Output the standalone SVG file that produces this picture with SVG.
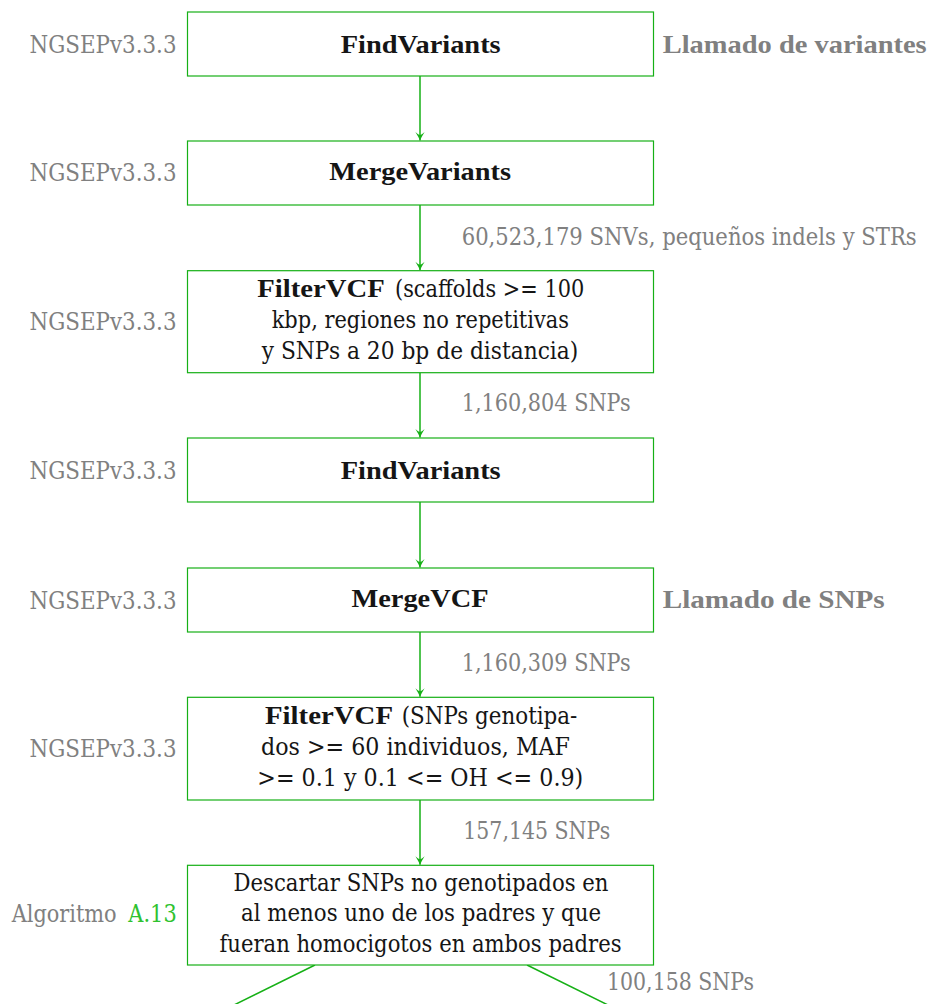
<svg xmlns="http://www.w3.org/2000/svg" width="930" height="1004" viewBox="0 0 930 1004">
  <style>
    text { font-family: "DejaVu Serif", "Liberation Serif", serif; font-size: 23.5px; }
    .b { font-weight: bold; font-family: "Liberation Serif", "DejaVu Serif", serif; font-size: 26px; }
    .t { fill: #151515; }
    .g { fill: #808080; }
    .lnk { fill: #2fc22f; }
    .box { fill: #ffffff; stroke: #16b016; stroke-width: 1.2; }
    .edge { fill: none; stroke: #16b016; stroke-width: 1.5; }
  </style>
  <defs>
    <marker id="arrow" markerUnits="userSpaceOnUse" viewBox="-10 -6 12 12" refX="0" refY="0" markerWidth="12" markerHeight="12" orient="auto">
      <path d="M0,0 Q-3,-1.2 -8.5,-4.6 Q-5.5,-1.5 -5.5,0 Q-5.5,1.5 -8.5,4.6 Q-3,1.2 0,0 Z" fill="#16b016"/>
    </marker>
  </defs>

  <rect width="930" height="1004" fill="#ffffff"/>

  <!-- connectors -->
  <g id="connectors">
    <line class="edge" x1="420" y1="76" x2="420" y2="140.5" marker-end="url(#arrow)"/>
    <line class="edge" x1="420" y1="205" x2="420" y2="270.2" marker-end="url(#arrow)"/>
    <line class="edge" x1="420" y1="372.7" x2="420" y2="437.5" marker-end="url(#arrow)"/>
    <line class="edge" x1="420" y1="502" x2="420" y2="567.5" marker-end="url(#arrow)"/>
    <line class="edge" x1="420" y1="632" x2="420" y2="696.8" marker-end="url(#arrow)"/>
    <line class="edge" x1="420" y1="800" x2="420" y2="864.8" marker-end="url(#arrow)"/>
    <line class="edge" x1="315" y1="965" x2="234" y2="1005"/>
    <line class="edge" x1="527" y1="965" x2="608" y2="1005"/>
  </g>

  <!-- edge annotations -->
  <g id="edge-labels" class="g">
    <text transform="translate(461.7 245) scale(0.8 1)" x="0" y="0" textLength="568.75" lengthAdjust="spacingAndGlyphs">60,523,179 SNVs, pequeños indels y STRs</text>
    <text x="461.7" y="411" textLength="169" lengthAdjust="spacingAndGlyphs">1,160,804 SNPs</text>
    <text x="461.7" y="670.5" textLength="169" lengthAdjust="spacingAndGlyphs">1,160,309 SNPs</text>
    <text x="463.3" y="839" textLength="147" lengthAdjust="spacingAndGlyphs">157,145 SNPs</text>
    <text x="607" y="990" textLength="147" lengthAdjust="spacingAndGlyphs">100,158 SNPs</text>
  </g>

  <!-- step 1 -->
  <g id="find-variants-1">
    <rect class="box" x="187.5" y="12" width="466" height="64"/>
    <text class="t b" x="340.7" y="53" textLength="160" lengthAdjust="spacingAndGlyphs">FindVariants</text>
    <text class="g" x="29.5" y="52.5" textLength="147" lengthAdjust="spacingAndGlyphs">NGSEPv3.3.3</text>
    <text class="g b" x="662.7" y="52.5" textLength="264" lengthAdjust="spacingAndGlyphs">Llamado de variantes</text>
  </g>

  <!-- step 2 -->
  <g id="merge-variants">
    <rect class="box" x="187.5" y="141" width="466" height="64"/>
    <text class="t b" x="329.3" y="180" textLength="181.7" lengthAdjust="spacingAndGlyphs">MergeVariants</text>
    <text class="g" x="29.5" y="181" textLength="147" lengthAdjust="spacingAndGlyphs">NGSEPv3.3.3</text>
  </g>

  <!-- step 3 -->
  <g id="filter-vcf-1">
    <rect class="box" x="187.5" y="270.7" width="466" height="102"/>
    <text class="t b" x="257.3" y="297.3" textLength="127.5" lengthAdjust="spacingAndGlyphs">FilterVCF</text>
    <text class="t" x="395" y="297.3" textLength="189.3" lengthAdjust="spacingAndGlyphs">(scaffolds &gt;= 100</text>
    <text class="t" x="271.7" y="328.3" textLength="297.3" lengthAdjust="spacingAndGlyphs">kbp, regiones no repetitivas</text>
    <text class="t" x="261.7" y="359.3" textLength="316.6" lengthAdjust="spacingAndGlyphs">y SNPs a 20 bp de distancia)</text>
    <text class="g" x="29.5" y="330" textLength="147" lengthAdjust="spacingAndGlyphs">NGSEPv3.3.3</text>
  </g>

  <!-- step 4 -->
  <g id="find-variants-2">
    <rect class="box" x="187.5" y="438" width="466" height="64"/>
    <text class="t b" x="340.7" y="479" textLength="160" lengthAdjust="spacingAndGlyphs">FindVariants</text>
    <text class="g" x="29.5" y="478.5" textLength="147" lengthAdjust="spacingAndGlyphs">NGSEPv3.3.3</text>
  </g>

  <!-- step 5 -->
  <g id="merge-vcf">
    <rect class="box" x="187.5" y="568" width="466" height="64"/>
    <text class="t b" x="351.5" y="607" textLength="137" lengthAdjust="spacingAndGlyphs">MergeVCF</text>
    <text class="g" x="29.5" y="608.5" textLength="147" lengthAdjust="spacingAndGlyphs">NGSEPv3.3.3</text>
    <text class="g b" x="662.7" y="607.5" textLength="222" lengthAdjust="spacingAndGlyphs">Llamado de SNPs</text>
  </g>

  <!-- step 6 -->
  <g id="filter-vcf-2">
    <rect class="box" x="187.5" y="697.3" width="466" height="102.7"/>
    <text class="t b" x="265" y="724" textLength="128" lengthAdjust="spacingAndGlyphs">FilterVCF</text>
    <text class="t" x="401.7" y="724" textLength="175.6" lengthAdjust="spacingAndGlyphs">(SNPs genotipa-</text>
    <text class="t" x="261" y="755" textLength="309" lengthAdjust="spacingAndGlyphs">dos &gt;= 60 individuos, MAF</text>
    <text class="t" x="257.3" y="786" textLength="326" lengthAdjust="spacingAndGlyphs">&gt;= 0.1 y 0.1 &lt;= OH &lt;= 0.9)</text>
    <text class="g" x="29.5" y="757" textLength="147" lengthAdjust="spacingAndGlyphs">NGSEPv3.3.3</text>
  </g>

  <!-- step 7 -->
  <g id="discard-parents">
    <rect class="box" x="187.5" y="865.3" width="466" height="99.7"/>
    <text class="t" x="233.5" y="890.5" textLength="375" lengthAdjust="spacingAndGlyphs">Descartar SNPs no genotipados en</text>
    <text class="t" x="241" y="921.3" textLength="360" lengthAdjust="spacingAndGlyphs">al menos uno de los padres y que</text>
    <text class="t" x="219.5" y="952" textLength="402" lengthAdjust="spacingAndGlyphs">fueran homocigotos en ambos padres</text>
    <text class="g" x="11.7" y="922" textLength="105" lengthAdjust="spacingAndGlyphs">Algoritmo</text>
    <text class="lnk" x="128.3" y="922" textLength="48.4" lengthAdjust="spacingAndGlyphs">A.13</text>
  </g>
</svg>
